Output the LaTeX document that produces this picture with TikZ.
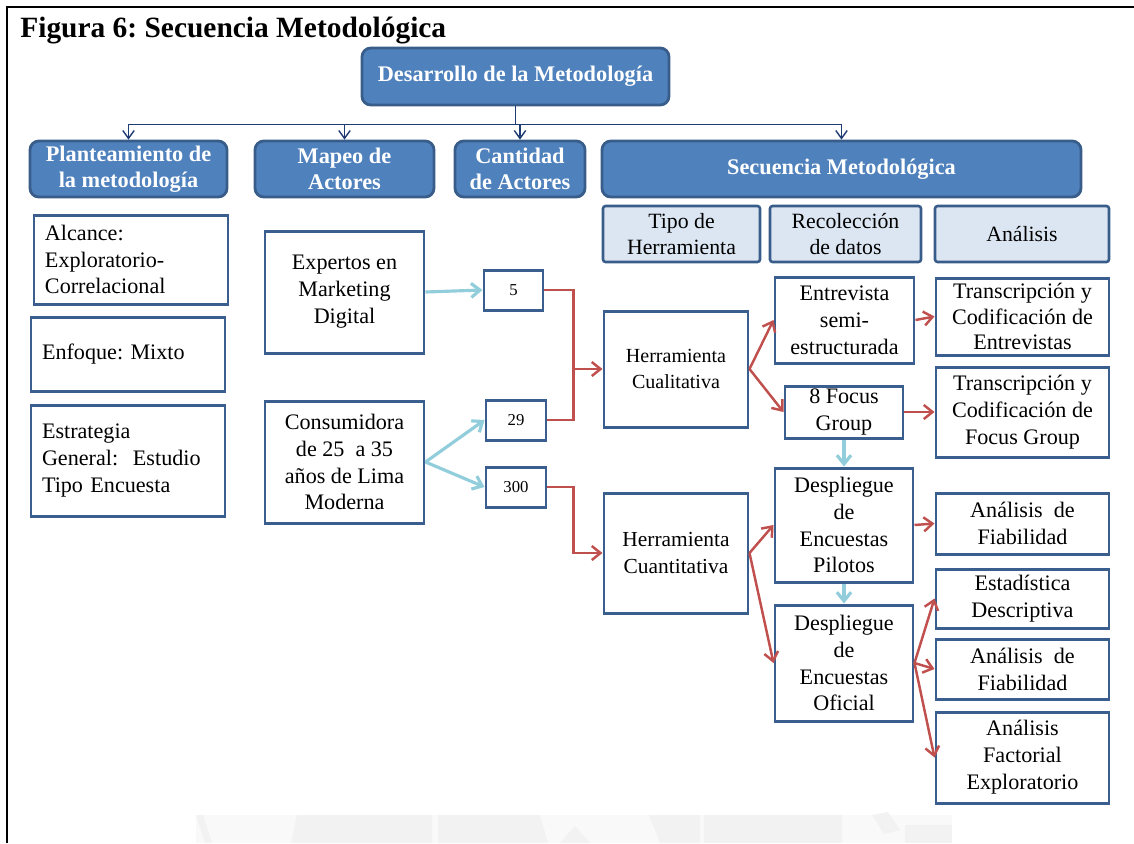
\documentclass[tikz,border=0pt]{standalone}
\usepackage{fontspec}
\setmainfont{Liberation Serif}
\usetikzlibrary{arrows.meta,calc}
\frenchspacing

% one drawing unit = 0.02cm
\newcommand\PX{0.02cm}

\definecolor{hdrfill}{HTML}{4F81BD}
\definecolor{hdrline}{HTML}{385D8A}
\definecolor{subfill}{HTML}{DCE6F2}
\definecolor{boxline}{HTML}{3A5F8F}
\definecolor{redline}{HTML}{C0504D}
\definecolor{cyanline}{HTML}{92CDDC}
\definecolor{navyline}{HTML}{1F3B73}
\definecolor{markgray}{HTML}{F2F2F2}
\definecolor{markpale}{HTML}{F9F9F9}

\tikzset{
  hdr/.style={draw=hdrline, line width=1.6pt, fill=hdrfill, rounded corners=5pt,
    text=white, font=\fontsize{12.7}{15}\selectfont\bfseries, align=center, inner sep=0pt},
  sub/.style={draw=hdrline, line width=1.5pt, fill=subfill, rounded corners=1.5pt,
    font=\fontsize{12.4}{15}\selectfont, align=center, inner sep=0pt},
  wbox/.style={draw=boxline, line width=1.7pt, fill=white,
    font=\fontsize{12.6}{15.3}\selectfont, align=center, inner sep=0pt},
  lbox/.style={wbox, align=left, text width=172*\PX},
  numbox/.style={wbox, font=\fontsize{9.5}{11}\selectfont},
  barb/.style={-{Straight Barb[length=5pt,width=8pt]}},
  busline/.style={draw=navyline, line width=0.8pt},
  busarrow/.style={busline, -{Straight Barb[length=4.5pt,width=6.5pt]}},
  redarrow/.style={draw=redline, line width=1.4pt, barb},
  redplain/.style={draw=redline, line width=1.4pt},
  cyanarrow/.style={draw=cyanline, line width=1.8pt, barb},
}

\begin{document}
\begin{tikzpicture}[x=\PX, y=-\PX]
\useasboundingbox (0,0) rectangle (1134,843);

% faint watermark at the foot of the page
\fill[markpale] (196,815) rectangle (952,843);
\fill[markgray] (196,815) -- (203,815) -- (212,843) -- (205,843) -- cycle;
\fill[markgray] (297,815) -- (432,815) -- (432,843) -- (291,843) -- cycle;
\fill[markgray] (438,815) -- (540,815) -- (548,843) -- (438,843) -- cycle;
\fill[markgray] (560,843) -- (575,826) -- (590,843) -- cycle;
\fill[markgray] (649,815) -- (700,815) -- (700,843) -- (660,843) -- cycle;
\fill[markgray] (704,815) -- (842,815) -- (842,843) -- (704,843) -- cycle;
\fill[markgray] (872,815) -- (888,812) -- (900,830) -- (884,834) -- cycle;
\fill[markgray] (905,825) -- (952,825) -- (952,843) -- (905,843) -- cycle;

% page frame
\draw[line width=1.4pt] (7,843) -- (7,7) -- (1134,7);

% title
\node[anchor=base west, inner sep=0pt, font=\fontsize{16.75}{20}\selectfont\bfseries]
  (title) at (20,37) {Figura 6: Secuencia Metodológica};

% top level
\node[hdr, minimum width=307*\PX, minimum height=57*\PX] (des) at (515.5,76.5)
  {Desarrollo de la Metodología};

% second row headers
\node[hdr, minimum width=197*\PX, minimum height=56*\PX] (plan) at (128.5,169)
  {Planteamiento de\\la metodología};
\node[hdr, minimum width=179*\PX, minimum height=56*\PX] (map) at (344.5,169)
  {Mapeo de\\Actores};
\node[hdr, minimum width=130*\PX, minimum height=56*\PX] (cant) at (520,169)
  {Cantidad\\de Actores};
\node[hdr, minimum width=479*\PX, minimum height=56*\PX] (sec) at (841.5,169)
  {Secuencia Metodológica};

% column titles of the sequence
\node[sub, minimum width=157*\PX, minimum height=56*\PX] (tipo) at (681.5,234)
  {Tipo de\\Herramienta};
\node[sub, minimum width=151*\PX, minimum height=56*\PX] (rec) at (845.5,234)
  {Recolección\\de datos};
\node[sub, minimum width=174*\PX, minimum height=56*\PX] (ana) at (1022,234)
  {Análisis};

% approach
\node[lbox, minimum width=194*\PX, minimum height=89*\PX] (alc) at (131,259.5)
  {Alcance:\\Exploratorio-\\Correlacional};
\node[lbox, minimum width=194*\PX, minimum height=74*\PX] (enf) at (128,354)
  {Enfoque:~Mixto};
\node[lbox, minimum width=194*\PX, minimum height=111*\PX] (est) at (128,460.5)
  {Estrategia\\General:~~Estudio\\Tipo Encuesta};

% actors
\node[wbox, minimum width=159*\PX, minimum height=122*\PX] (exp) at (344.5,292)
  {Expertos en\\Marketing\\Digital};
\node[wbox, minimum width=159*\PX, minimum height=122*\PX] (con) at (344.5,462)
  {Consumidora\\de 25~~a 35\\años de Lima\\Moderna};

% amounts
\node[numbox, minimum width=59*\PX, minimum height=40*\PX] (n5) at (513.5,290) {5};
\node[numbox, minimum width=60*\PX, minimum height=40*\PX] (n29) at (516,420) {29};
\node[numbox, minimum width=60*\PX, minimum height=40*\PX] (n300) at (516,487) {300};

% tools
\node[wbox, font=\fontsize{11.4}{14.5}\selectfont, minimum width=144*\PX, minimum height=116*\PX]
  (cual) at (676,369) {Herramienta\\Cualitativa};
\node[wbox, font=\fontsize{12.2}{14.8}\selectfont, minimum width=144*\PX, minimum height=120*\PX]
  (cuan) at (676,553) {Herramienta\\Cuantitativa};

% data collection
\node[wbox, minimum width=139*\PX, minimum height=86*\PX] (ent) at (844.5,320)
  {Entrevista\\semi-\\estructurada};
\node[wbox, minimum width=118*\PX, minimum height=52*\PX] (foc) at (844,412)
  {8 Focus\\Group};
\node[wbox, minimum width=138*\PX, minimum height=114*\PX] (pil) at (844,525)
  {Despliegue\\de\\Encuestas\\Pilotos};
\node[wbox, minimum width=138*\PX, minimum height=116*\PX] (ofi) at (844,663)
  {Despliegue\\de\\Encuestas\\Oficial};

% analysis
\node[wbox, font=\fontsize{12.6}{14.6}\selectfont, minimum width=173*\PX, minimum height=77*\PX]
  (tr1) at (1022.5,316.5) {Transcripción y\\Codificación de\\Entrevistas};
\node[wbox, minimum width=173*\PX, minimum height=90*\PX] (tr2) at (1022.5,412)
  {Transcripción y\\Codificación de\\Focus Group};
\node[wbox, minimum width=173*\PX, minimum height=61*\PX] (af1) at (1022.5,523.5)
  {Análisis~~de\\Fiabilidad};
\node[wbox, minimum width=173*\PX, minimum height=59*\PX] (ed) at (1022.5,598.5)
  {Estadística\\Descriptiva};
\node[wbox, minimum width=173*\PX, minimum height=60*\PX] (af2) at (1022.5,669)
  {Análisis~~de\\Fiabilidad};
\node[wbox, minimum width=173*\PX, minimum height=91*\PX] (afe) at (1022.5,757.5)
  {Análisis\\Factorial\\Exploratorio};

% hierarchy connectors
\coordinate (bus) at ($(des.south)+(0,18)$);
\draw[busline] (des.south) -- (bus);
\draw[busline] (bus -| plan.north) -- (bus -| sec.north);
\foreach \n in {plan,map,cant,sec}
  \draw[busarrow] (bus -| \n.north) -- (\n.north);

% actors to amounts
\draw[cyanarrow] (exp.east) -- (n5.west);
\draw[cyanarrow] (con.east) -- (n29.west);
\draw[cyanarrow] (con.east) -- (n300.west);

% amounts to tools
\coordinate (jq) at ($(cual.west)+(-29,0)$);
\coordinate (jn) at ($(cuan.west)+(-29,0)$);
\draw[redplain] (n29.east) -| (jq);
\draw[redarrow] (n5.east) -| (jq) -- (cual.west);
\draw[redarrow] (n300.east) -| (jn) -- (cuan.west);

% tools to data collection
\draw[redarrow] (cual.east) -- (ent.west);
\draw[redarrow] (cual.east) -- (foc.west);
\draw[redarrow] (cuan.east) -- (pil.west);
\draw[redarrow] (cuan.east) -- (ofi.west);

% data collection sequence
\draw[cyanarrow] (foc.south) -- (pil.north);
\draw[cyanarrow] (pil.south) -- (ofi.north);

% data collection to analysis
\draw[redarrow] (ent.east) -- (tr1.west);
\draw[redarrow] (foc.east) -- (tr2.west);
\draw[redarrow] (pil.east) -- (af1.west);
\draw[redarrow] (ofi.east) -- (ed.west);
\draw[redarrow] (ofi.east) -- (af2.west);
\draw[redarrow] (ofi.east) -- (afe.west);
\end{tikzpicture}
\end{document}
